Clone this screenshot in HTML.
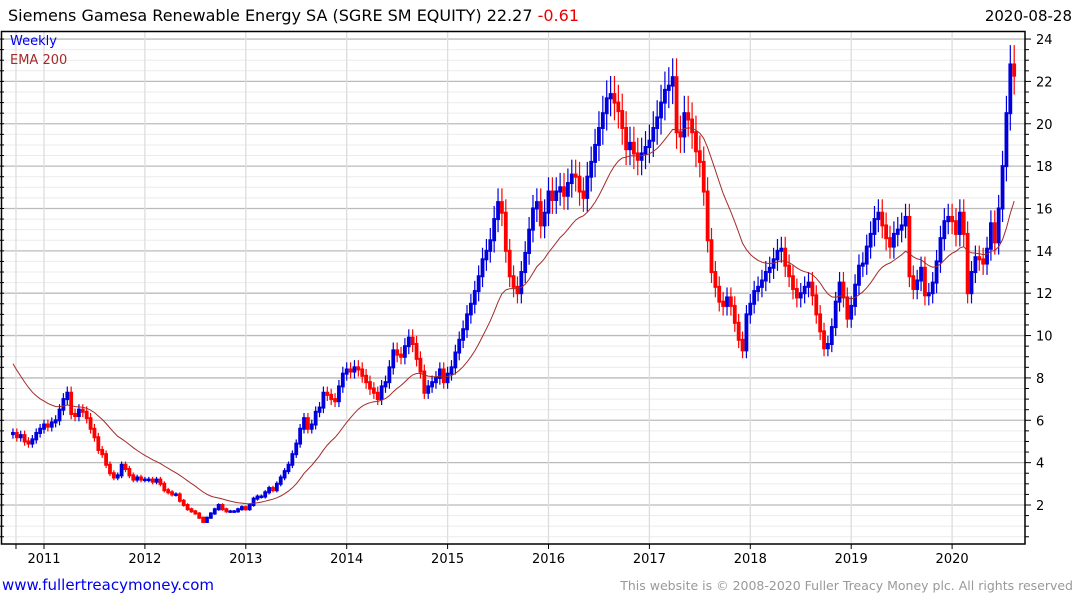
<!DOCTYPE html>
<html><head><meta charset="utf-8">
<style>
body{margin:0;background:#fff;width:1075px;height:600px;overflow:hidden;font-family:"Liberation Sans","DejaVu Sans",sans-serif;}
svg{display:block}
</style></head>
<body>
<svg id="chart" width="1075" height="600" viewBox="0 0 1075 600" xmlns="http://www.w3.org/2000/svg">
<text x="8" y="21" font-size="16" fill="#000" font-family="DejaVu Sans, sans-serif">Siemens Gamesa Renewable Energy SA (SGRE SM EQUITY) 22.27 <tspan fill="#e00">-0.61</tspan></text>
<text x="1072" y="21" font-size="15" text-anchor="end" fill="#000" font-family="DejaVu Sans, sans-serif">2020-08-28</text>
<g id="grid"></g>
<g id="bars"></g>
<path id="ema" fill="none" stroke="#a52a2a" stroke-width="1"/>
<rect x="1.5" y="31.5" width="1023.5" height="512.5" fill="none" stroke="#000" stroke-width="1.5"/>
<g id="axes"></g>
<text x="10" y="45" font-size="13" fill="#0000ee" font-family="DejaVu Sans, sans-serif">Weekly</text>
<text x="10" y="64" font-size="13" fill="#a52a2a" font-family="DejaVu Sans, sans-serif">EMA 200</text>
<text x="2" y="590" font-size="15" fill="#0000ee" font-family="DejaVu Sans, sans-serif">www.fullertreacymoney.com</text>
<text x="1073" y="590" font-size="12.5" text-anchor="end" fill="#999" font-family="DejaVu Sans, sans-serif">This website is © 2008-2020 Fuller Treacy Money plc. All rights reserved</text>
</svg>
<script>
const years = [2011,2012,2013,2014,2015,2016,2017,2018,2019,2020];
const yTicks = [2,4,6,8,10,12,14,16,18,20,22,24];
const startYear = 2011 - 8/26;
const closes2010 = [5.4,5.2,5.3,5.0,4.9,5.1,5.4,5.6];
const closes2011 = [5.8,5.7,5.9,6.0,6.5,7.0,7.3,6.3,6.2,6.5,6.4,6.1,5.6,5.2,4.6,4.4,3.9,3.5,3.3,3.4,3.9,3.7,3.4,3.2,3.3,3.2];
const closes2012 = [3.2,3.2,3.1,3.2,3.0,2.7,2.6,2.5,2.5,2.2,2.0,1.8,1.7,1.6,1.4,1.2,1.4,1.6,1.8,2.0,1.8,1.7,1.7,1.7,1.8,1.9];
const closes2013 = [1.8,2.0,2.3,2.4,2.4,2.6,2.8,2.7,3.0,3.3,3.6,3.9,4.4,4.9,5.6,6.1,5.6,5.8,6.4,6.6,7.3,7.2,7.0,6.9,7.6,8.2];
const closes2014 = [8.4,8.3,8.5,8.4,8.1,7.8,7.5,7.3,7.0,7.6,7.8,8.5,9.3,9.1,9.0,9.5,9.9,9.6,8.9,8.3,7.3,7.6,7.8,8.0,8.4,7.8];
const closes2015 = [8.2,8.5,9.2,9.8,10.3,11.0,11.5,12.1,12.8,13.6,14.0,14.5,15.5,16.3,15.8,14.0,12.8,12.3,12.0,13.0,13.9,15.0,16.0,16.3,15.2,15.8];
const closes2016 = [16.8,16.4,16.8,17.0,16.6,17.2,17.6,17.5,16.8,16.5,17.5,18.2,19.0,19.8,20.5,21.2,21.4,21.0,20.6,19.8,18.8,19.1,18.6,18.3,18.6,18.9];
const closes2017 = [19.2,19.8,20.3,21.0,21.6,21.8,22.2,19.6,19.4,20.5,20.2,19.6,18.7,18.2,16.8,14.5,13.0,12.3,11.6,11.4,11.8,11.4,10.6,9.8,9.3,11.0];
const closes2018 = [11.5,12.1,12.3,12.6,13.0,13.2,13.6,14.0,14.1,13.3,12.8,12.2,11.8,12.0,12.3,12.5,11.9,11.0,10.2,9.4,9.6,10.4,11.6,12.5,11.8,10.8];
const closes2019 = [11.4,12.4,13.3,13.4,14.2,14.8,15.5,15.8,15.2,14.6,14.2,14.8,15.0,15.2,15.6,12.8,12.2,12.6,13.2,11.9,12.0,12.5,13.5,14.6,15.4,15.6];
const closes2020 = [15.4,14.8,15.8,14.8,12.0,13.0,13.7,13.6,13.4,14.1,15.3,14.4,16.0,18.0,20.5,22.8,22.27];
const emaSeed = 9.0;

const closes = [].concat(closes2010,closes2011,closes2012,closes2013,closes2014,closes2015,closes2016,closes2017,closes2018,closes2019,closes2020);
const NS = "http://www.w3.org/2000/svg";
const X = t => 44 + (t - 2011) * 100.9;
const Y = v => 505 - (v - 2) * 21.18;
function mk(tag, attrs, parent){const e=document.createElementNS(NS,tag);for(const k in attrs)e.setAttribute(k,attrs[k]);parent.appendChild(e);return e;}
const grid=document.getElementById('grid'), axes=document.getElementById('axes'), bars=document.getElementById('bars');

for(let v=0.5; v<=25; v+=0.5){
  const y=Y(v); if(y<32||y>543) continue;
  const major = (v%2===0);
  const l=mk('line',{x1:2,x2:1025,y1:y,y2:y,stroke:major?'#bbb':'#ebebeb','stroke-width':major?1.3:1},grid);
  
  
  const t=mk('line',{x1:1025,x2:major?1031:1029,y1:y,y2:y,stroke:'#000','stroke-width':1},axes);
  
  
  const lt=mk('line',{x1:0,x2:4,y1:y,y2:y,stroke:'#000','stroke-width':1},axes);
  
  
}
yTicks.forEach(v=>{
  const t=mk('text',{x:1036,y:Y(v)+5,'font-size':13,fill:'#000','font-family':'DejaVu Sans, sans-serif'},axes);
  t.textContent=v;
  
  
});
[startYear+0.03].concat(years).forEach((yr,i)=>{
  const x=X(yr);
  const g=mk('line',{x1:x,x2:x,y1:32,y2:543,stroke:'#ddd','stroke-width':1.3},grid);
  
  
  const t=mk('line',{x1:x,x2:x,y1:544,y2:549,stroke:'#000','stroke-width':1},axes);
  
  
});
years.forEach(yr=>{
  const t=mk('text',{x:X(yr),y:563,'font-size':13,'text-anchor':'middle',fill:'#000','font-family':'DejaVu Sans, sans-serif'},axes);
  t.textContent=yr;
  
  
});

let prev=closes[0]*0.99, ema=emaSeed, d='';
const alpha=0.09;
closes.forEach((c,i)=>{
  const t=startYear+i/26, x=X(t);
  const up=c>=prev, col=up?'#0000dd':'#ff0000';
  const hi=Math.max(c,prev)*1.04, lo=Math.min(c,prev)*0.96;
  const w=mk('line',{x1:x,x2:x,y1:Y(hi),y2:Y(lo),stroke:col,'stroke-width':1.2},bars);
  
  
  const top=Y(Math.max(c,prev)), bot=Y(Math.min(c,prev));
  const b=mk('rect',{x:x-1.9,y:top-1,width:3.8,height:Math.max(2.5,bot-top+2),fill:col},bars);
  
  
  ema = ema + alpha*(c-ema);
  d += (i?'L':'M')+x.toFixed(1)+' '+Y(ema).toFixed(1);
  prev=c;
});
document.getElementById('ema').setAttribute('d',d);
</script>
</body></html>
